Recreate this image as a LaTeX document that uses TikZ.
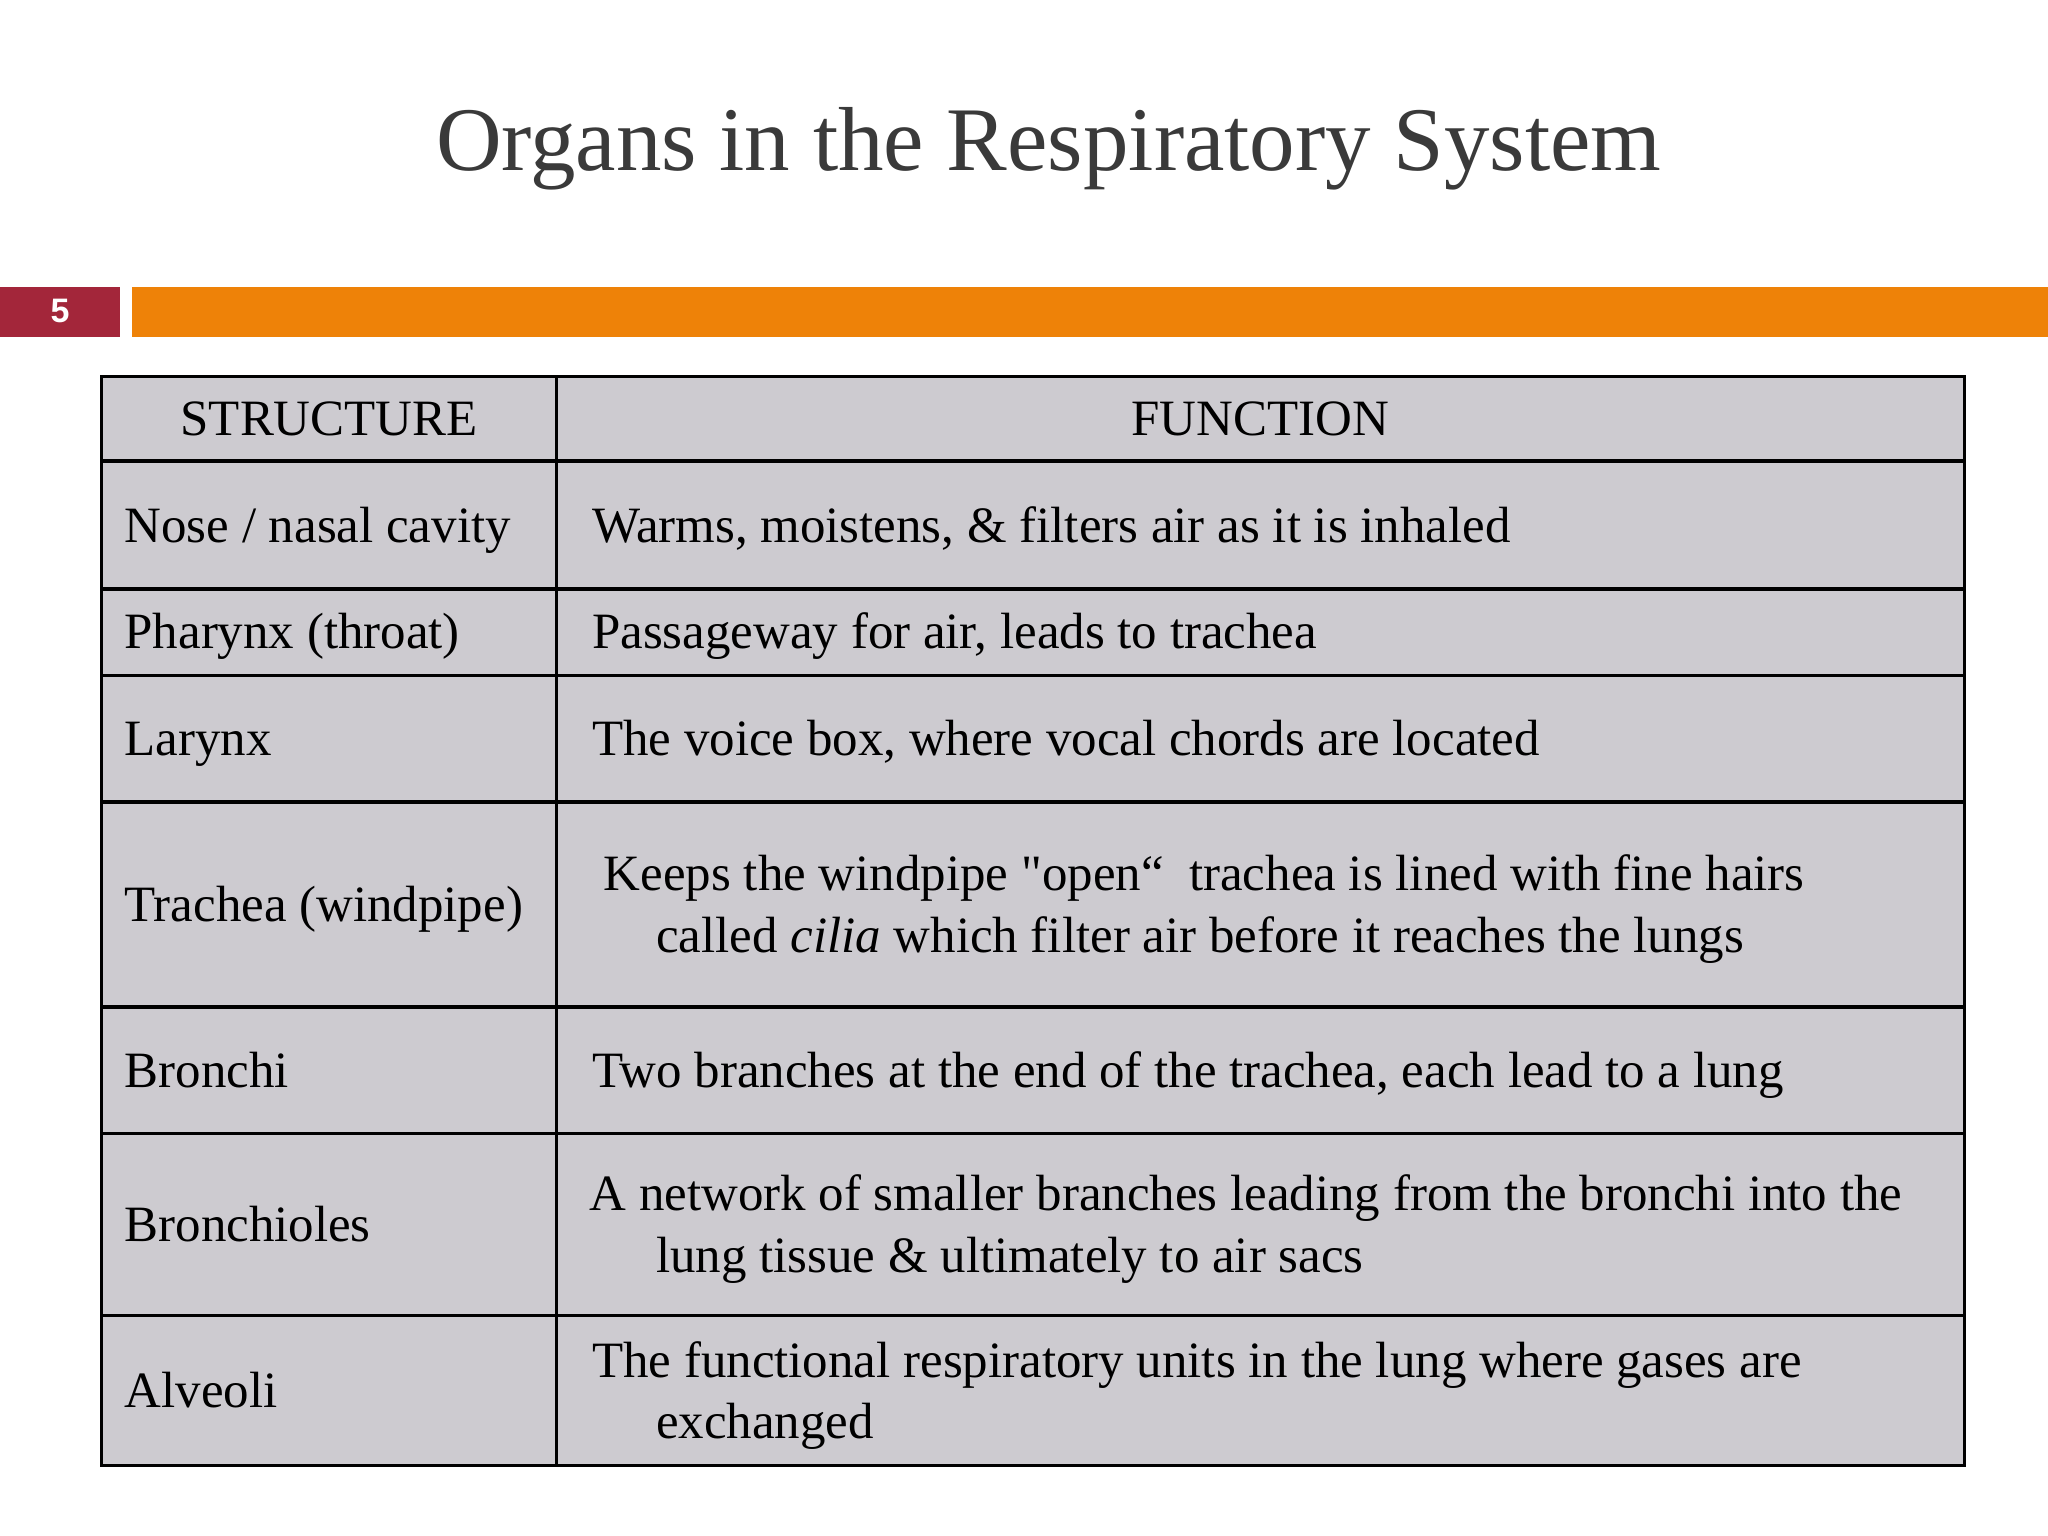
\documentclass[tikz,border=0pt]{standalone}
\usepackage{fontspec}
\setmainfont[Ligatures=TeXOff]{Liberation Serif}
\newfontfamily\sansb{Liberation Sans}
\definecolor{cellgray}{HTML}{CDCBD0}
\definecolor{barorange}{HTML}{EE8208}
\definecolor{barred}{HTML}{A3263A}
\definecolor{titlegray}{HTML}{3A3A3A}
\begin{document}
\begin{tikzpicture}[x=0.5pt,y=-0.5pt,
  cell/.style={anchor=mid west,inner sep=0pt,font=\fontsize{19.5}{23}\selectfont,text=black},
  head/.style={anchor=mid,inner sep=0pt,font=\fontsize{19.5}{23}\selectfont,text=black}]
\useasboundingbox (0,0) rectangle (1568,1176);
\node[inner sep=0pt,text=titlegray,font=\fontsize{34.8}{40}\selectfont] (title) at (803,114) {Organs in the Respiratory System};
\fill[barred] (0,220) rectangle (92,258);
\fill[barorange] (101,220) rectangle (1568,258);
\node[text=white,font=\sansb\bfseries\fontsize{13}{15}\selectfont] (num) at (46,238) {5};
\fill[cellgray] (78,288) rectangle (1504,1122);
\draw[line width=1.2pt] (78,288) rectangle (1504,1122);
\draw[line width=1.2pt] (426,288) -- (426,1122);
\foreach \y in {353,451,517,614,771,868,1007} \draw[line width=1.2pt] (78,\y) -- (1504,\y);
\node[head] (h1) at (252,329) {STRUCTURE};
\node[head] (h2) at (965,329) {FUNCTION};
\node[cell] (s1) at (95,411) {Nose / nasal cavity};
\node[cell] (f1) at (453,411) {Warms, moistens, \& filters air as it is inhaled};
\node[cell] (s2) at (95,492) {Pharynx (throat)};
\node[cell] (f2) at (453,492) {Passageway for air, leads to trachea};
\node[cell] (s3) at (95,574) {Larynx};
\node[cell] (f3) at (453,574) {The voice box, where vocal chords are located};
\node[cell] (s4) at (95,701) {Trachea (windpipe)};
\node[cell] (f4a) at (462,677) {Keeps the windpipe "open“\ \ trachea is lined with fine hairs};
\node[cell] (f4b) at (502,725) {called \textit{cilia} which filter air before it reaches the lungs};
\node[cell] (s5) at (95,828) {Bronchi};
\node[cell] (f5) at (453,828) {Two branches at the end of the trachea, each lead to a lung};
\node[cell] (s6) at (95,946) {Bronchioles};
\node[cell] (f6a) at (451,922) {A network of smaller branches leading from the bronchi into the};
\node[cell] (f6b) at (502,970) {lung tissue \& ultimately to air sacs};
\node[cell] (s7) at (95,1073) {Alveoli};
\node[cell] (f7a) at (453,1050) {The functional respiratory units in the lung where gases are};
\node[cell] (f7b) at (502,1097) {exchanged};
\end{tikzpicture}
\end{document}
